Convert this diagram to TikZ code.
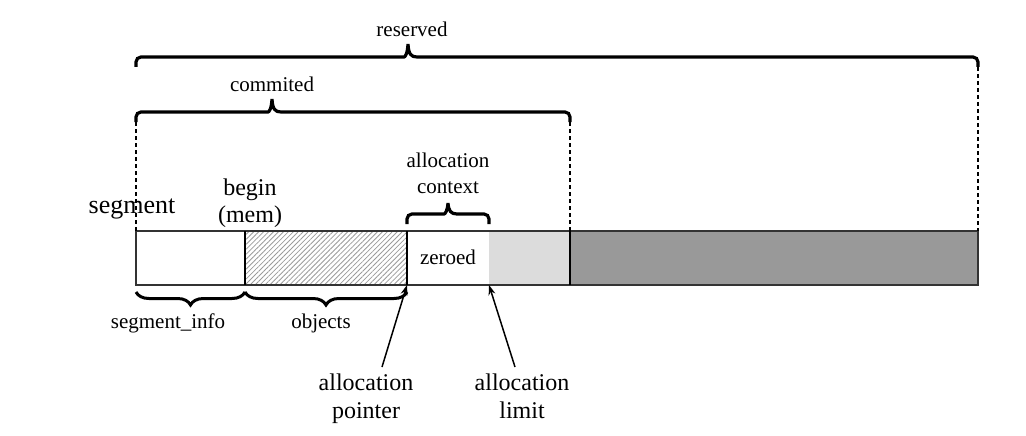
\documentclass[tikz,border=0pt]{standalone}
\usepackage{fontspec}
\setmainfont{Liberation Serif}
\usetikzlibrary{decorations.pathreplacing,patterns.meta,arrows.meta}
\definecolor{barline}{HTML}{333333}
\definecolor{lightfill}{HTML}{DCDCDC}
\definecolor{darkfill}{HTML}{999999}
\definecolor{hatchc}{HTML}{9A9A9A}
% top brace with tight corners: #1 left x, #2 tip x, #3 right x, #4 end y, #5 tip height
\newcommand\drawtopbrace[5]{%
  \draw[bracestroke] (#1,#4) [rounded corners=5pt] -- (#1,#4-10) -- (#2-9,#4-10)
    [sharp corners] .. controls (#2-3,#4-10) and (#2-0.5,#4-13) .. (#2,#4-10-#5)
    .. controls (#2+0.5,#4-13) and (#2+3,#4-10) .. (#2+9,#4-10)
    [rounded corners=5pt] -- (#3,#4-10) -- (#3,#4);}
\begin{document}
\begin{tikzpicture}[x=1pt,y=-1pt,
  region/.style={inner sep=0pt,outer sep=0pt,minimum height=54pt,anchor=north west},
  small/.style={inner sep=0pt,anchor=base,font=\fontsize{21}{25}\selectfont},
  big/.style={inner sep=0pt,anchor=base,font=\fontsize{24}{28}\selectfont},
  bracestroke/.style={line width=3.2pt,miter limit=4},
  bracebot/.style={decorate,decoration={brace,mirror,amplitude=#1},line width=3pt},
  guide/.style={line width=1.5pt,dash pattern=on 4pt off 3pt},
  sepline/.style={line width=2.6pt,black},
  ptr/.style={line width=1.5pt,-{Stealth[length=10pt,width=7pt]}}]
\path[use as bounding box] (0,0) rectangle (1026,436);
% bar regions
\node[region,fill=white,minimum width=109pt] (seginfo) at (136,231) {};
\node[region,pattern={Lines[angle=45,distance=3.5pt,line width=0.8pt]},pattern color=hatchc,minimum width=162pt] (objects) at (245,231) {};
\node[region,fill=white,minimum width=82pt] (zeroed) at (407,231) {};
\node[region,fill=lightfill,minimum width=81pt] (limitreg) at (489,231) {};
\node[region,fill=darkfill,minimum width=408pt] (reservedreg) at (570,231) {};
\draw[barline,line width=2pt] (seginfo.north west) rectangle (reservedreg.south east);
\draw[sepline] (seginfo.north east) -- (seginfo.south east);
\draw[sepline] (objects.north east) -- (objects.south east);
\draw[sepline] (limitreg.north east) -- (limitreg.south east);
\node[small] (zeroedlbl) at (448,264) {zeroed};
% guide coordinates
\coordinate (resR) at (978,67);
\coordinate (comL) at (136,122);
\coordinate (comR) at (570,122);
\coordinate (botA) at (136,292);
\coordinate (botB) at (245,292);
\coordinate (botC) at (407,292);
% dotted guides
\draw[guide] (comL) -- (seginfo.north west);
\draw[guide] (comR) -- (reservedreg.north west);
\draw[guide] (resR) -- (reservedreg.north east);
% braces
\drawtopbrace{136}{408}{978}{67}{13}
\drawtopbrace{136}{272}{570}{122}{13}
\drawtopbrace{407}{448}{489}{224}{11}
\draw[bracebot=13pt] (botA) -- (botB);
\draw[bracebot=13pt] (botB) -- (botC);
% labels
\node[small] (reservedlbl) at (412,37) {reserved};
\node[small] (commitedlbl) at (272,92) {commited};
\node[small] (ctx1) at (448,167) {allocation};
\node[small] (ctx2) at (448,193) {context};
\node[inner sep=0pt,anchor=base,font=\fontsize{26}{30}\selectfont] (segmentlbl) at (132,213) {segment};
\node[big] (begin1) at (250,195) {begin};
\node[big] (begin2) at (250,222) {(mem)};
\node[small] (seginfolbl) at (168,328) {segment\_info};
\node[small] (objectslbl) at (321,328) {objects};
\node[big] (ptr1) at (366,390) {allocation};
\node[big] (ptr2) at (366,418) {pointer};
\node[big] (lim1) at (522,390) {allocation};
\node[big] (lim2) at (522,418) {limit};
% arrows
\coordinate (ptrtail) at (382,367);
\coordinate (limtail) at (515,367);
\draw[ptr] (ptrtail) -- (objects.south east);
\draw[ptr] (limtail) -- (limitreg.south west);
\end{tikzpicture}
\end{document}
